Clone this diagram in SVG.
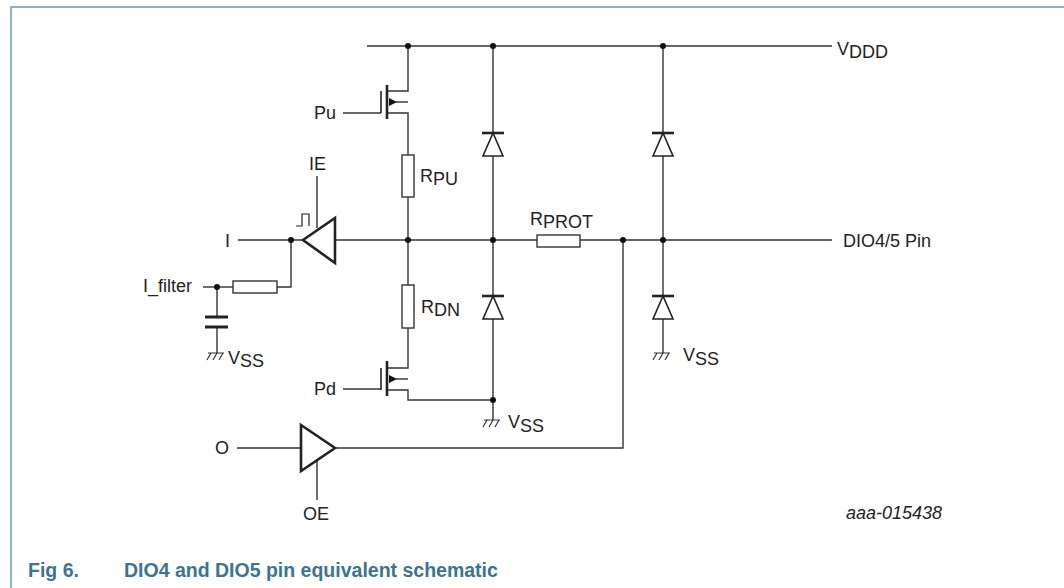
<svg xmlns="http://www.w3.org/2000/svg" width="1064" height="588" viewBox="0 0 1064 588">
<style>
.w{stroke:#333;stroke-width:1.4;fill:none}
.t{stroke:#222;stroke-width:2.6;fill:none;stroke-linejoin:miter}
.r{stroke:#333;stroke-width:1.4;fill:#fff}
.d{fill:#111}
.l{font-family:"Liberation Sans",Arial,sans-serif;font-size:18px;fill:#222}
.cap{font-family:"Liberation Sans",Arial,sans-serif;font-size:19.5px;font-weight:bold;fill:#3c7392}
</style>
<defs>
<g id="gnd"><path d="M-7 0H9M-4 0l-4 7M2 0l-4 7M8 0l-4 7" stroke="#333" stroke-width="1.2" fill="none"/></g>
<g id="diode"><path d="M-11 0H11" stroke="#222" stroke-width="2.6"/><path d="M0 0L-10 23H10Z" stroke="#222" stroke-width="1.6" fill="#fff"/></g>
<marker id="ah" markerWidth="8" markerHeight="8" refX="1" refY="4" orient="auto" markerUnits="userSpaceOnUse"><path d="M0 4L8 0V8Z" fill="#111"/></marker>
</defs>
<path d="M11 588V7H1064" stroke="#8eb0c5" stroke-width="2" fill="none"/>
<g id="connectors">
<path class="w" d="M367 46H832"/>
<path class="w" d="M493 46V420"/>
<path class="w" d="M663 46V353"/>
<path class="w" d="M336 240H832"/>
<path class="w" d="M408 46V91H387"/>
<path class="w" d="M387 113H408V155"/>
<path class="w" d="M408 197V285"/>
<path class="w" d="M408 328V368H387"/>
<path class="w" d="M387 390H408V400H493"/>
<path class="w" d="M343 113H381"/>
<path class="w" d="M343 389H381"/>
<path class="w" d="M238 240H303"/>
<path class="w" d="M291 240V287H277"/>
<path class="w" d="M203 287H233"/>
<path class="w" d="M217 287V317M217 327V353"/>
<path class="w" d="M317 176V228"/>
<path class="w" d="M623 240V448H335"/>
<path class="w" d="M237 448H301"/>
<path class="w" d="M317 459V500"/>
<path class="w" d="M408 102H396" marker-end="url(#ah)"/>
<path class="w" d="M408 379H396" marker-end="url(#ah)"/>
<circle class="d" cx="408" cy="46" r="3"/>
<circle class="d" cx="493" cy="46" r="3"/>
<circle class="d" cx="663" cy="46" r="3"/>
<circle class="d" cx="408" cy="240" r="3"/>
<circle class="d" cx="493" cy="240" r="3"/>
<circle class="d" cx="623" cy="240" r="3"/>
<circle class="d" cx="663" cy="240" r="3"/>
<circle class="d" cx="291" cy="240" r="3"/>
<circle class="d" cx="217" cy="287" r="3"/>
<circle class="d" cx="493" cy="400" r="3"/>
</g>
<g id="pu_fet">
<path d="M387 85V119" stroke="#222" stroke-width="2.6"/>
<path d="M381 91V113" stroke="#222" stroke-width="1.6"/>
<text class="l" x="314" y="119">Pu</text>
</g>
<g id="pd_fet">
<path d="M387 361V396" stroke="#222" stroke-width="2.6"/>
<path d="M381 368V390" stroke="#222" stroke-width="1.6"/>
<text class="l" x="314" y="395">Pd</text>
</g>
<g id="rpu"><rect class="r" x="402" y="155" width="12" height="42"/><text class="l" x="420" y="182">R<tspan dy="3">PU</tspan></text></g>
<g id="rdn"><rect class="r" x="402" y="285" width="12" height="43"/><text class="l" x="421" y="313">R<tspan dy="3">DN</tspan></text></g>
<g id="rprot"><rect class="r" x="537" y="235" width="43" height="12"/><text class="l" x="530" y="225">R<tspan dy="3">PROT</tspan></text></g>
<g id="rfilt"><rect class="r" x="233" y="281" width="44" height="12"/></g>
<g id="cap"><path d="M205 317H228M205 327H228" stroke="#222" stroke-width="3"/></g>
<g id="d1"><use href="#diode" x="493" y="133"/></g>
<g id="d2"><use href="#diode" x="493" y="296"/></g>
<g id="d3"><use href="#diode" x="663" y="133"/></g>
<g id="d4"><use href="#diode" x="663" y="296"/></g>
<g id="gnd1"><use href="#gnd" x="215" y="353"/><text class="l" x="228" y="364">V<tspan dy="3">SS</tspan></text></g>
<g id="gnd2"><use href="#gnd" x="491" y="420"/><text class="l" x="508" y="428">V<tspan dy="4">SS</tspan></text></g>
<g id="gnd3"><use href="#gnd" x="661" y="353"/><text class="l" x="683" y="361">V<tspan dy="4">SS</tspan></text></g>
<g id="inbuf">
<path class="t" d="M303 240L335 218V263Z"/>
<path d="M296 226H302V214H309V226" stroke="#222" stroke-width="1.2" fill="none"/>
<text class="l" x="309" y="170">IE</text>
<text class="l" x="225" y="247">I</text>
<text class="l" x="143" y="292">I_filter</text>
</g>
<g id="outbuf">
<path class="t" d="M301 425L335 448L301 471Z"/>
<text class="l" x="215" y="454">O</text>
<text class="l" x="303" y="520">OE</text>
</g>
<g id="labels">
<text class="l" x="837" y="55">V<tspan dy="3">DDD</tspan></text>
<text class="l" x="843" y="247">DIO4/5 Pin</text>
<text class="l" x="846" y="519" font-size="16" font-style="italic">aaa-015438</text>
</g>
<text class="cap" x="28" y="577">Fig 6.</text>
<text class="cap" x="124" y="577">DIO4 and DIO5 pin equivalent schematic</text>
</svg>
